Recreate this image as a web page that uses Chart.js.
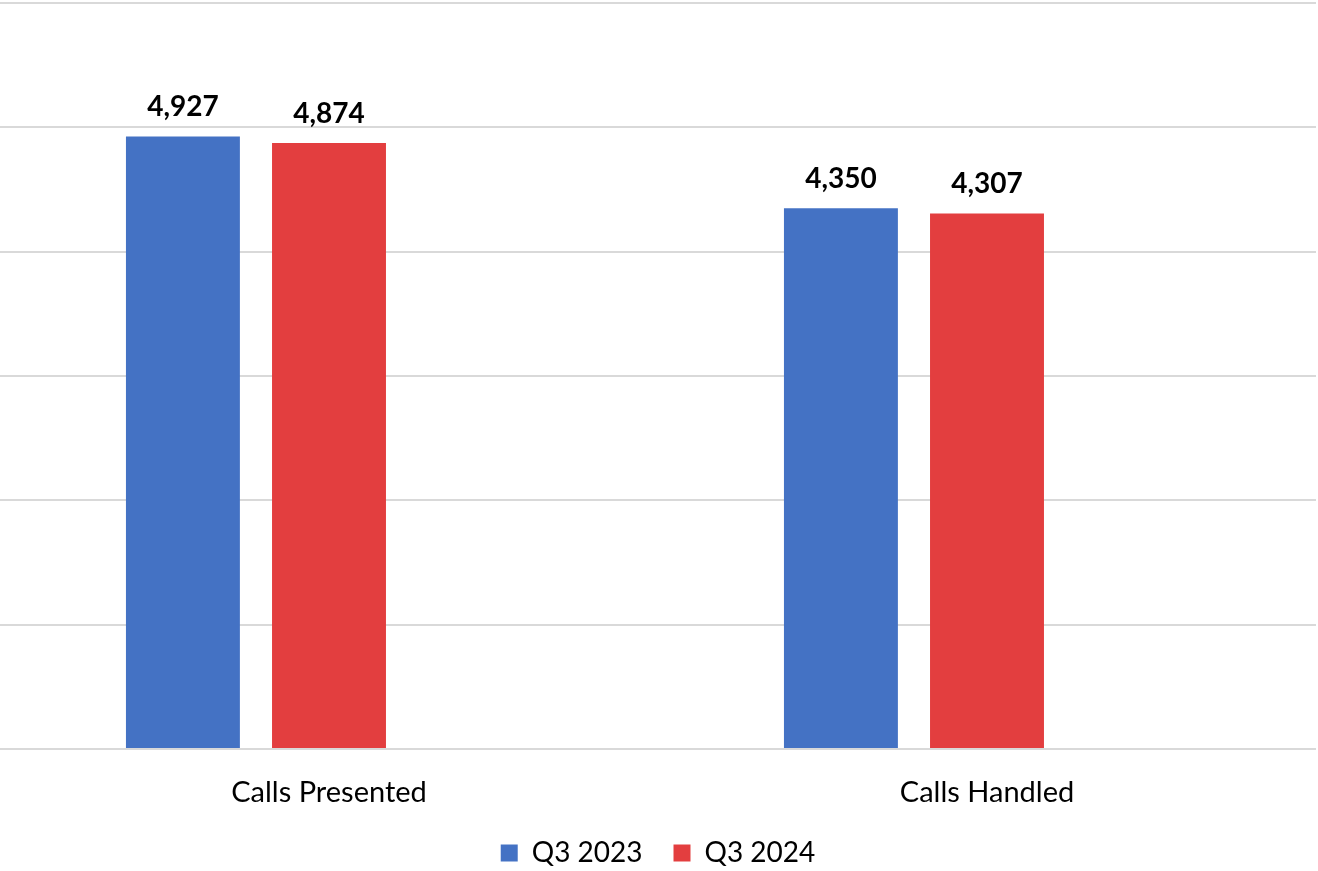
<!DOCTYPE html>
<html>
<head>
<meta charset="utf-8">
<script src="https://cdn.jsdelivr.net/npm/chart.js@4"></script>
<style>
  html, body { margin: 0; padding: 0; background: #fff; }
  #wrap { width: 1318px; height: 871px; position: relative; }
</style>
</head>
<body>
<div id="wrap"><canvas id="callsChart"></canvas></div>
<script>
// Chart data
const categories = ['Calls Presented', 'Calls Handled'];
const q3_2023 = [4927, 4350];
const q3_2024 = [4874, 4307];
// empty third slot (the original chart reserves room for it)
const spacer = [null, null];
const yTicks = [0, 1000, 2000, 3000, 4000, 5000, 6000];

const FONT = 'Lato, "Open Sans", sans-serif';

// Draw the value above each bar
const valueLabels = {
    id: 'valueLabels',
    afterDatasetsDraw(chart) {
        const ctx = chart.ctx;
        ctx.save();
        ctx.font = 'bold 28px ' + FONT;
        ctx.fillStyle = '#000';
        ctx.textAlign = 'center';
        ctx.textBaseline = 'alphabetic';
        chart.data.datasets.forEach((ds, i) => {
            if (ds.label === '') return;
            chart.getDatasetMeta(i).data.forEach((bar, j) => {
                const v = ds.data[j];
                if (v == null) return;
                ctx.fillText(v.toLocaleString('en-US'), bar.x, bar.y - 20);
            });
        });
        ctx.restore();
    }
};

const ctx = document.getElementById('callsChart').getContext('2d');
new Chart(ctx, {
    type: 'bar',
    data: {
        labels: categories,
        datasets: [
            { label: 'Q3 2023', data: q3_2023, backgroundColor: '#4472C4' },
            { label: 'Q3 2024', data: q3_2024, backgroundColor: '#E33E3F' },
            { label: '', data: spacer, backgroundColor: 'rgba(0,0,0,0)' }
        ]
    },
    options: {
        responsive: true,
        maintainAspectRatio: false,
        animation: false,
        categoryPercentage: 0.666,
        barPercentage: 0.78,
        layout: { padding: { top: 3, left: 0, right: 2, bottom: -6 } },
        scales: {
            y: {
                min: yTicks[0],
                max: yTicks[yTicks.length - 1],
                afterBuildTicks(axis) {
                    axis.ticks = yTicks.map(v => ({ value: v }));
                },
                ticks: { display: false },
                grid: { color: '#d9d9d9', lineWidth: 2, drawTicks: false },
                border: { display: false }
            },
            x: {
                afterFit(scale) { scale.height = 59; },
                grid: { display: false, drawTicks: false },
                border: { display: false },
                ticks: {
                    color: '#000',
                    padding: 26,
                    font: { family: FONT, size: 29 }
                }
            }
        },
        plugins: {
            legend: {
                position: 'bottom',
                labels: {
                    filter: item => item.text !== '',
                    color: '#000',
                    boxWidth: 17,
                    boxHeight: 17,
                    padding: 31,
                    font: { family: FONT, size: 28 }
                }
            },
            tooltip: { enabled: false }
        }
    },
    plugins: [valueLabels]
});
</script>
</body>
</html>
